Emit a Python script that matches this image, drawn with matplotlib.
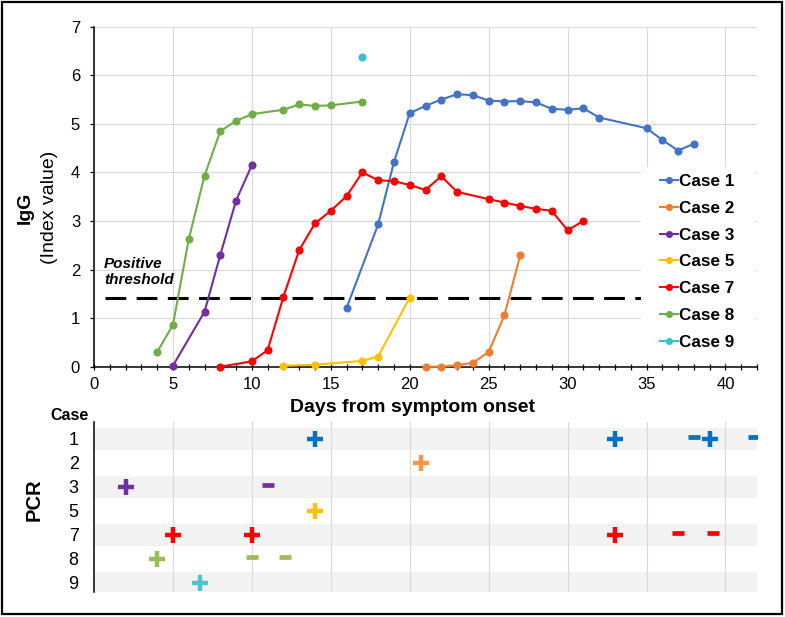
import matplotlib
matplotlib.use('Agg')
import matplotlib.pyplot as plt
from matplotlib.patches import Rectangle

plt.rcParams['font.family'] = ['Liberation Sans', 'DejaVu Sans']

# IgG index values by day from symptom onset
case1_days = [16, 18, 19, 20, 21, 22, 23, 24, 25, 26, 27, 28, 29, 30, 31, 32, 35, 36, 37, 38]
case1_igg = [1.21, 2.93, 4.21, 5.22, 5.37, 5.50, 5.61, 5.59, 5.48, 5.46, 5.47, 5.44, 5.31, 5.29, 5.32, 5.13, 4.91, 4.67, 4.45, 4.59]
case2_days = [21, 22, 23, 24, 25, 26, 27]
case2_igg = [0.0, 0.0, 0.03, 0.08, 0.30, 1.06, 2.29]
case3_days = [5, 7, 8, 9, 10]
case3_igg = [0.02, 1.13, 2.30, 3.42, 4.15]
case5_days = [12, 14, 17, 18, 20]
case5_igg = [0.02, 0.04, 0.12, 0.21, 1.42]
case7_days = [8, 10, 11, 12, 13, 14, 15, 16, 17, 18, 19, 20, 21, 22, 23, 25, 26, 27, 28, 29, 30, 31]
case7_igg = [0.0, 0.11, 0.34, 1.44, 2.40, 2.95, 3.21, 3.51, 4.00, 3.84, 3.82, 3.74, 3.64, 3.92, 3.60, 3.45, 3.38, 3.31, 3.25, 3.21, 2.81, 3.00]
case8_days = [4, 5, 6, 7, 8, 9, 10, 12, 13, 14, 15, 17]
case8_igg = [0.30, 0.86, 2.62, 3.93, 4.85, 5.06, 5.20, 5.29, 5.40, 5.37, 5.38, 5.46]
case9_days = [17]
case9_igg = [6.37]
threshold = 1.42

cases = ['Case 1', 'Case 2', 'Case 3', 'Case 5', 'Case 7', 'Case 8', 'Case 9']
line_colors = ['#4472C4', '#ED7D31', '#7030A0', '#FFC000', '#FF0000', '#70AD47', '#33C4CB']

# PCR results (day of test)
pcr_rows = ['1', '2', '3', '5', '7', '8', '9']
pcr_colors = ['#0070C0', '#F79646', '#7030A0', '#FFC000', '#FF0000', '#9BBB59', '#4BC6D0']
pcr_plus = {'1': [14, 33, 39], '2': [20.7], '3': [2], '5': [14],
            '7': [5, 10, 33], '8': [4], '9': [6.7]}
pcr_minus = {'1': [38, 41.8], '2': [], '3': [11], '5': [],
             '7': [37, 39.2], '8': [10, 12.1], '9': []}

W, H = 785, 617
fig = plt.figure(figsize=(W / 100, H / 100), dpi=100)

ax = fig.add_axes([94 / W, 1 - 366.7 / H, 663 / W, 340 / H])
series = [(case1_days, case1_igg), (case2_days, case2_igg), (case3_days, case3_igg),
          (case5_days, case5_igg), (case7_days, case7_igg), (case8_days, case8_igg),
          (case9_days, case9_igg)]
for (d, v), name, c in zip(series, cases, line_colors):
    ax.plot(d, v, color=c, lw=1.5, marker='o', ms=4.8, label=name, zorder=3, clip_on=False)

ax.plot([0.7, 42], [threshold, threshold], color='black', lw=2.2, dashes=(6.8, 3.4), zorder=2)
fig.text(104 / W, 1 - 272 / H, 'Positive\nthreshold', fontsize=11, fontweight='bold',
         fontstyle='italic', ha='left', va='center', linespacing=1.15)

ax.set_xlim(0, 42)
ax.set_ylim(0, 7)
ax.set_xticks(range(0, 41, 5))
ax.set_xticks(range(0, 43), minor=True)
ax.set_yticks(range(0, 8))
ax.grid(True, which='major', color='#D9D9D9', lw=0.8, zorder=0)
ax.set_axisbelow(True)
for s in ['top', 'right']:
    ax.spines[s].set_visible(False)
for s in ['left', 'bottom']:
    ax.spines[s].set_color('black')
    ax.spines[s].set_linewidth(1.1)
ax.tick_params(axis='x', which='both', direction='inout', length=5, width=0.9, labelsize=12, pad=5)
ax.tick_params(axis='y', direction='out', length=3, width=0.9, labelsize=12, pad=7)

# white legend area hiding grid and threshold
ax.add_patch(Rectangle((641 / W, 1 - 362 / H), 114 / W, 195 / H, transform=fig.transFigure,
                       facecolor='white', edgecolor='none', zorder=2.5, clip_on=False))
leg = ax.legend(loc='upper left', bbox_to_anchor=(660 / W, 1 - 174 / H), bbox_transform=fig.transFigure,
                frameon=False, prop={'weight': 'bold', 'size': 12.3}, handlelength=1.06,
                handletextpad=0.08, labelspacing=0.69, borderpad=0, borderaxespad=0, markerscale=0.85)
leg.set_zorder(5)

fig.text(25 / W, 1 - 208 / H, 'IgG', rotation=90, fontsize=14, fontweight='bold', ha='center', va='center')
fig.text(50 / W, 1 - 207 / H, '(Index value)', rotation=90, fontsize=14, ha='center', va='center')
fig.text(412 / W, 1 - 407 / H, 'Days from symptom onset', fontsize=14, fontweight='bold', ha='center', va='center')

# PCR panel
ax2 = fig.add_axes([94 / W, 1 - 592.3 / H, 663 / W, (592.3 - 421.7) / H])
ax2.set_xlim(0, 42)
ax2.set_ylim(6.39, -0.72)
for i in range(0, 7, 2):
    ax2.axhspan(i - 0.46, i + 0.46, xmin=0.002, color='#F2F2F2', lw=0, zorder=0)
for x in range(5, 41, 5):
    ax2.axvline(x, color='#D9D9D9', lw=0.8, zorder=1)
for i, (row, c) in enumerate(zip(pcr_rows, pcr_colors)):
    ax2.plot(pcr_plus[row], [i] * len(pcr_plus[row]), ls='none', marker='+', ms=11, mew=3.2, color=c, zorder=3)
    ax2.plot(pcr_minus[row], [i - 0.08] * len(pcr_minus[row]), ls='none', marker='_', ms=8.5, mew=3.4, color=c, zorder=3)
ax2.set_yticks(range(7))
ax2.set_yticklabels(pcr_rows)
ax2.set_xticks([])
ax2.tick_params(axis='y', length=0, labelsize=13, pad=11)
for s in ['top', 'right', 'bottom']:
    ax2.spines[s].set_visible(False)
ax2.spines['left'].set_color('black')
ax2.spines['left'].set_linewidth(1.1)

fig.text(89 / W, 1 - 415 / H, 'Case', fontsize=11.5, fontweight='bold', ha='right', va='center')
fig.text(34 / W, 1 - 500 / H, 'PCR', rotation=90, fontsize=14.5, fontweight='bold', ha='center', va='center')

fig.patches.append(Rectangle((2 / W, 3 / H), 780 / W, 612 / H, transform=fig.transFigure,
                             fill=False, edgecolor='black', lw=1.6))

fig.savefig('out.png', dpi=100)
